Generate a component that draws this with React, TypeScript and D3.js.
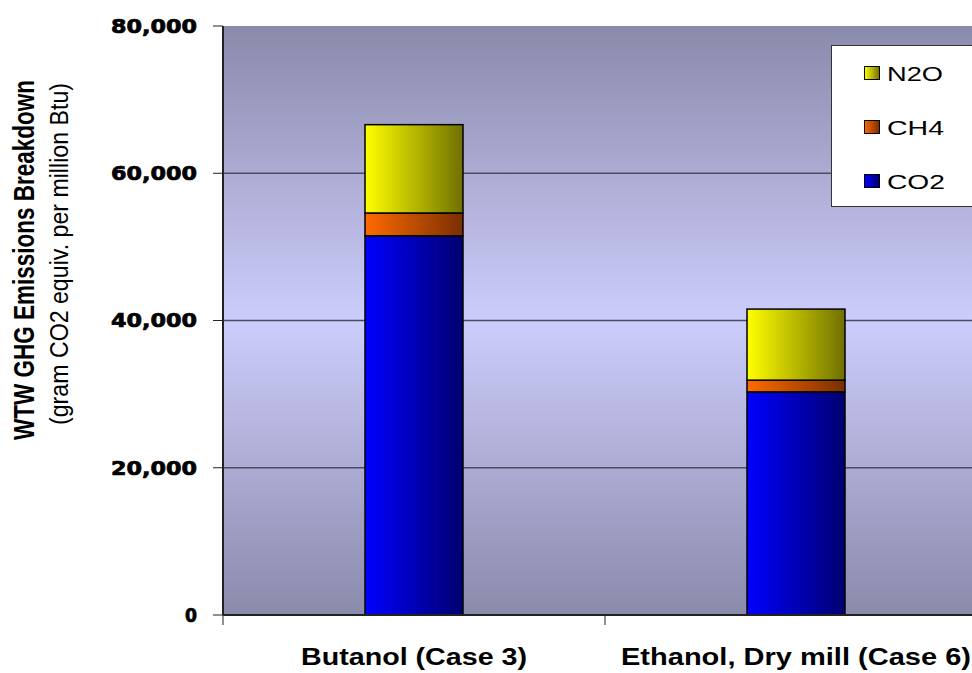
import React from "react";
import * as d3 from "d3";

const categories = ["Butanol (Case 3)", "Ethanol, Dry mill (Case 6)"];
const seriesNames = ["CO2", "CH4", "N2O"];
const co2Values = [51500, 30300];
const ch4Values = [3100, 1600];
const n2oValues = [12000, 9650];
const yTicks = [0, 20000, 40000, 60000, 80000];
const legendOrder = ["N2O", "CH4", "CO2"];

const W = 972;
const H = 673;
const M = { left: 223, top: 26, bottom: 615 };
const bandW = 382;

const gradStops: Record<string, [string, string]> = {
  CO2: ["#0000ff", "#000070"],
  CH4: ["#ff6a00", "#7a2e00"],
  N2O: ["#ffff00", "#707000"],
};

export default function App() {
  const y = d3.scaleLinear().domain([0, 80000]).range([M.bottom, M.top]);
  const xb = d3.scaleBand<string>().domain([...categories, "_"]).range([M.left, M.left + bandW * 3]);
  const barW = xb.bandwidth() * 0.2565;
  const cx = (c: string) => (xb(c) as number) + xb.bandwidth() / 2;

  const table = categories.map((c, i) => ({
    cat: c,
    CO2: co2Values[i],
    CH4: ch4Values[i],
    N2O: n2oValues[i],
  }));
  const stacked = d3.stack<any>().keys(seriesNames)(table);
  const fmt = d3.format(",");

  return (
    <svg width={W} height={H} style={{ display: "block", position: "absolute", left: 0, top: 0 }}>
      <defs>
        <linearGradient id="bg" x1="0" y1="0" x2="0" y2="1">
          <stop offset="0" stopColor="#8a8aab" />
          <stop offset="0.5" stopColor="#cdcdfc" />
          <stop offset="1" stopColor="#8a8aab" />
        </linearGradient>
        {seriesNames.map((s) => (
          <linearGradient key={s} id={"g" + s} x1="0" y1="0" x2="1" y2="0">
            <stop offset="0" stopColor={gradStops[s][0]} />
            <stop offset="1" stopColor={gradStops[s][1]} />
          </linearGradient>
        ))}
      </defs>
      <rect x={0} y={0} width={W} height={H} fill="#ffffff" />
      <rect x={M.left} y={M.top} width={W - M.left} height={M.bottom - M.top} fill="url(#bg)" />
      {yTicks
        .filter((t) => t > 0 && t < 80000)
        .map((t) => (
          <line key={t} x1={M.left} x2={W} y1={y(t)} y2={y(t)} stroke="#4a4a60" strokeWidth={1.3} />
        ))}
      {stacked.map((layer) =>
        layer.map((d, i) => (
          <rect
            key={layer.key + i}
            x={cx(categories[i]) - barW / 2}
            width={barW}
            y={y(d[1])}
            height={y(d[0]) - y(d[1])}
            fill={`url(#g${layer.key})`}
            stroke="#000"
            strokeWidth={1.5}
          />
        ))
      )}
      <line x1={M.left} x2={M.left} y1={M.top} y2={M.bottom} stroke="#222" strokeWidth={2} />
      <line x1={M.left} x2={W} y1={M.bottom} y2={M.bottom} stroke="#222" strokeWidth={2} />
      {yTicks.map((t) => (
        <g key={"t" + t}>
          <line x1={M.left - 10} x2={M.left} y1={y(t)} y2={y(t)} stroke="#222" strokeWidth={1} />
          <text
            x={197}
            y={y(t)}
            dy="0.36em"
            textAnchor="end"
            fontFamily="DejaVu Sans"
            fontWeight="bold"
            fontSize={19}
            textLength={t === 0 ? 12 : 86}
            lengthAdjust="spacingAndGlyphs"
            fill="#000"
            stroke="#000"
            strokeWidth={0.7}
          >
            {fmt(t)}
          </text>
        </g>
      ))}
      {[M.left, M.left + bandW].map((px) => (
        <line key={"xt" + px} x1={px} x2={px} y1={M.bottom} y2={M.bottom + 10} stroke="#222" strokeWidth={1} />
      ))}
      {categories.map((c, i) => (
        <text
          key={c}
          x={cx(c)}
          y={665}
          textAnchor="middle"
          fontFamily="Liberation Sans, Arial, sans-serif"
          fontWeight="bold"
          fontSize={23}
          textLength={i === 0 ? 226 : 350}
          lengthAdjust="spacingAndGlyphs"
          fill="#000"
        >
          {c}
        </text>
      ))}
      <g transform="translate(34,260) scale(1.4,1) rotate(-90)">
        <text
          x={0}
          y={0}
          textAnchor="middle"
          fontFamily="Liberation Sans, Arial, sans-serif"
          fontWeight="bold"
          fontSize={21}
          textLength={360}
          lengthAdjust="spacingAndGlyphs"
        >
          WTW GHG Emissions Breakdown
        </text>
      </g>
      <g transform="translate(68,254) scale(1.35,1) rotate(-90)">
        <text
          x={0}
          y={0}
          textAnchor="middle"
          fontFamily="Liberation Sans, Arial, sans-serif"
          fontSize={19}
          textLength={342}
          lengthAdjust="spacingAndGlyphs"
        >
          (gram CO2 equiv. per million Btu)
        </text>
      </g>
      <rect x={831.5} y={45.5} width={160} height={161} fill="#fff" stroke="#333" strokeWidth={1} />
      {legendOrder.map((s, i) => {
        const cy = 73 + i * 54;
        return (
          <g key={s}>
            <rect x={864.5} y={cy - 6.5} width={15} height={13} fill={`url(#g${s})`} stroke="#000" strokeWidth={1} />
            <text
              x={887}
              y={cy}
              dy="0.36em"
              fontFamily="Liberation Sans, Arial, sans-serif"
              fontSize={21}
              textLength={s === "N2O" ? 56 : s === "CH4" ? 57 : 58}
              lengthAdjust="spacingAndGlyphs"
            >
              {s}
            </text>
          </g>
        );
      })}
    </svg>
  );
}
